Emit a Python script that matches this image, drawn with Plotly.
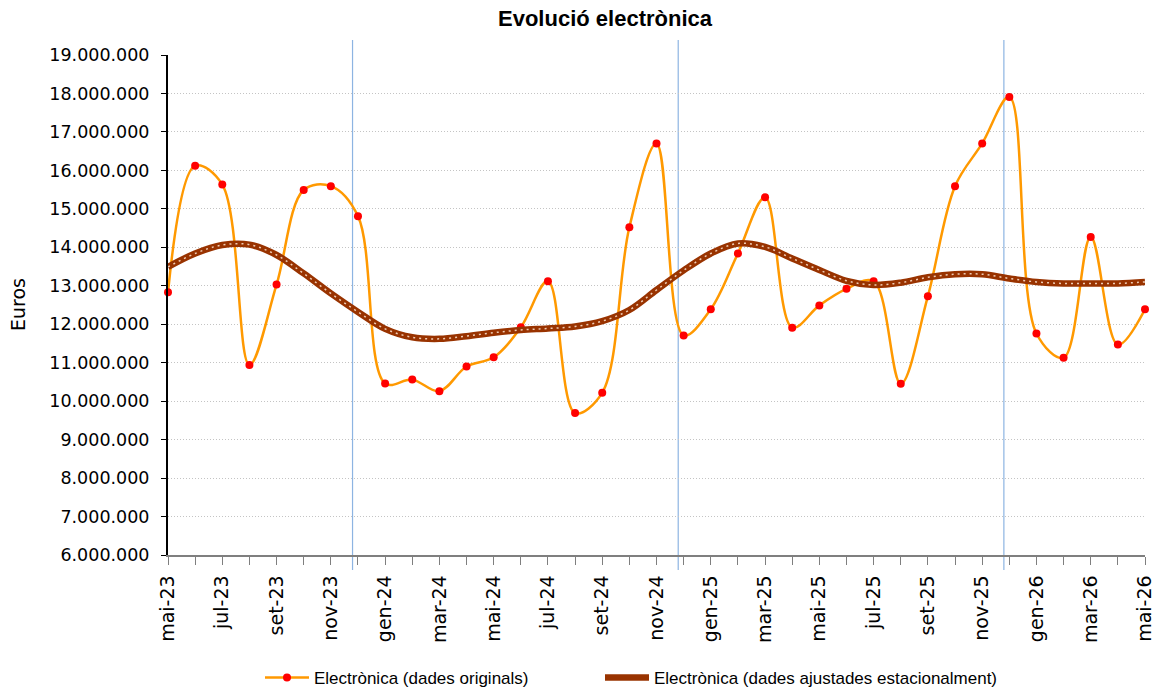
import plotly.graph_objects as go

months = ["mai-23", "jun-23", "jul-23", "ago-23", "set-23", "oct-23", "nov-23", "des-23",
          "gen-24", "feb-24", "mar-24", "abr-24", "mai-24", "jun-24", "jul-24", "ago-24",
          "set-24", "oct-24", "nov-24", "des-24", "gen-25", "feb-25", "mar-25", "abr-25",
          "mai-25", "jun-25", "jul-25", "ago-25", "set-25", "oct-25", "nov-25", "des-25",
          "gen-26", "feb-26", "mar-26", "abr-26", "mai-26"]

originals = [12830000, 16120000, 15630000, 10940000, 13030000, 15490000, 15590000, 14810000,
             10460000, 10560000, 10260000, 10900000, 11140000, 11920000, 13120000, 9690000,
             10220000, 14520000, 16700000, 11710000, 12390000, 13840000, 15300000, 11910000,
             12490000, 12920000, 13120000, 10450000, 12730000, 15590000, 16700000, 17910000,
             11760000, 11130000, 14270000, 11470000, 12390000]

ajustades = [13490000, 13840000, 14060000, 14070000, 13800000, 13320000, 12800000, 12320000,
             11880000, 11660000, 11620000, 11690000, 11780000, 11850000, 11890000, 11940000,
             12080000, 12370000, 12890000, 13400000, 13840000, 14100000, 14010000, 13710000,
             13410000, 13130000, 13020000, 13080000, 13220000, 13300000, 13300000, 13190000,
             13100000, 13060000, 13060000, 13060000, 13100000]

year_marks = [6.8, 18.8, 30.8]

xs = list(range(len(months)))

fig = go.Figure()

fig.add_trace(go.Scatter(
    x=xs, y=originals, mode="lines+markers",
    name="Electrònica (dades originals)", legend="legend",
    line=dict(color="#FF9900", width=2.5, shape="spline", smoothing=1.0),
    marker=dict(color="#FF0000", size=8),
    cliponaxis=False,
))
fig.add_trace(go.Scatter(
    x=xs, y=ajustades, mode="lines",
    name="Electrònica (dades ajustades estacionalment)", legend="legend2",
    line=dict(color="#993300", width=6.5, shape="spline", smoothing=1.0),
))
fig.add_trace(go.Scatter(
    x=xs, y=ajustades, mode="lines", showlegend=False, hoverinfo="skip",
    line=dict(color="rgba(255,230,210,0.85)", width=1.5, dash="2px,4px", shape="spline", smoothing=1.0),
))

for xm in year_marks:
    fig.add_shape(type="line", xref="x", yref="paper", x0=xm, x1=xm, y0=-0.03, y1=1.03,
                  line=dict(color="#8DB4E2", width=1.2), layer="below")

fig.add_annotation(text="Euros", xref="paper", yref="paper", x=(18 - 168) / 977, y=0.5,
                   xanchor="center", yanchor="middle", textangle=-90, showarrow=False,
                   font=dict(family="DejaVu Sans", size=19, color="black"))

legend_common = dict(orientation="h", xanchor="left", y=-(678 - 555) / 500.3, yanchor="middle",
                     font=dict(size=17), itemwidth=44, bgcolor="rgba(0,0,0,0)")

fig.update_layout(
    width=1157, height=691,
    margin=dict(l=168, r=12, t=55, b=136, autoexpand=False),
    paper_bgcolor="white", plot_bgcolor="white",
    separators=",.",
    font=dict(family="Liberation Sans, Arial, sans-serif", color="black"),
    title=dict(text="<b>Evolució electrònica</b>", x=605/1157, xref="container", xanchor="center",
               y=1 - 18/691, yanchor="middle",
               font=dict(family="Liberation Sans, Arial, sans-serif", size=22, color="black")),
    showlegend=True,
    legend=dict(x=(260 - 168) / 977, **legend_common),
    legend2=dict(x=(600 - 168) / 977, **legend_common),
)

fig.update_xaxes(
    range=[0, 36], tickmode="array", tickvals=xs[::2], ticktext=months[::2],
    tickangle=-90, tickfont=dict(family="DejaVu Sans", size=19), showgrid=False,
    showline=True, linecolor="#7F7F7F", linewidth=1.5,
    ticks="outside", ticklen=8, tickcolor="#7F7F7F", ticklabelstandoff=3,
    minor=dict(tickvals=xs, ticks="outside", ticklen=8, tickcolor="#7F7F7F"),
    zeroline=False, automargin=False,
)
fig.update_yaxes(
    range=[6000000, 19000000], tickmode="linear", tick0=6000000, dtick=1000000,
    tickformat=",d", tickfont=dict(family="DejaVu Sans", size=17.5),
    showgrid=True, gridcolor="#C4C4C4", griddash="1px,2px", gridwidth=1,
    showline=True, linecolor="black", linewidth=2,
    ticks="outside", ticklen=5, tickcolor="black", ticklabelstandoff=8,
    zeroline=False, automargin=False,
)

fig.write_html("out.html", config={"displayModeBar": False},
               post_script="document.body.style.margin='0px';")
